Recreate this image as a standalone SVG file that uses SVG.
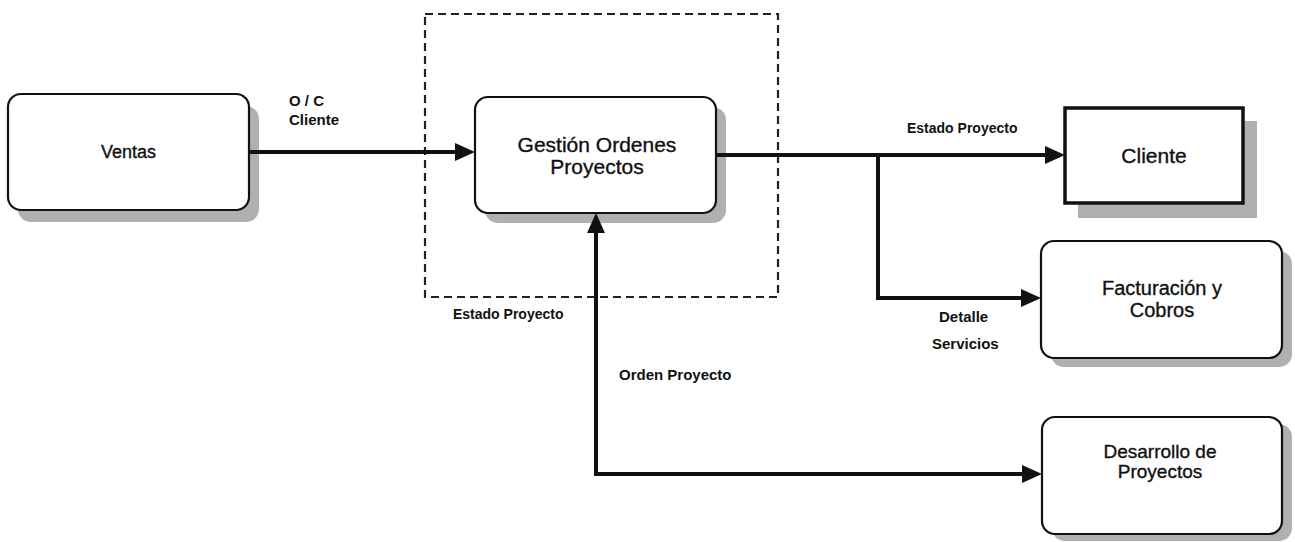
<svg xmlns="http://www.w3.org/2000/svg" width="1295" height="542" viewBox="0 0 1295 542">
  <style>
    .box { fill: #ffffff; stroke: #111111; stroke-width: 2.2; }
    .box-strong { fill: #ffffff; stroke: #111111; stroke-width: 3.5; }
    .shadow { fill: #b0b0b0; stroke: none; }
    .name { font-family: "Liberation Sans", Arial, sans-serif; fill: #111111; stroke: #111111; stroke-width: 0.35; text-anchor: middle; }
    .flow { font-family: "Liberation Sans", Arial, sans-serif; font-weight: bold; fill: #111111; }
    .wire { fill: none; stroke: #111111; stroke-width: 4; stroke-linejoin: miter; }
    .boundary { fill: none; stroke: #222222; stroke-width: 2.2; stroke-dasharray: 8 5; }
  </style>
  <defs>
    <marker id="head" viewBox="0 -9 20 18" refX="0" refY="0" markerWidth="20" markerHeight="18" markerUnits="userSpaceOnUse" orient="auto-start-reverse">
      <path d="M0,-9 L20,0 L0,9 z" fill="#111111"/>
    </marker>
  </defs>

  <rect width="1295" height="542" fill="#ffffff"/>

  <!-- system boundary around the order management process -->
  <rect class="boundary" x="425" y="14" width="353" height="283"/>

  <!-- nodes -->
  <g id="ventas">
    <rect class="shadow" x="18" y="106" width="241" height="116" rx="13"/>
    <rect class="box" x="8" y="94" width="241" height="116" rx="13"/>
    <text class="name" x="128.5" y="158" font-size="18">Ventas</text>
  </g>

  <g id="gestion-ordenes">
    <rect class="shadow" x="485" y="107" width="241" height="116" rx="13"/>
    <rect class="box" x="475" y="97" width="241" height="116" rx="13"/>
    <text class="name" x="597" y="152" font-size="21">Gestión Ordenes</text>
    <text class="name" x="597" y="174" font-size="21">Proyectos</text>
  </g>

  <g id="cliente">
    <rect class="shadow" x="1078" y="121" width="179" height="97"/>
    <rect class="box-strong" x="1065" y="108" width="178" height="95"/>
    <text class="name" x="1154" y="163" font-size="21">Cliente</text>
  </g>

  <g id="facturacion">
    <rect class="shadow" x="1051" y="251" width="241" height="116" rx="13"/>
    <rect class="box" x="1041" y="241" width="241" height="117" rx="13"/>
    <text class="name" x="1162" y="295" font-size="20">Facturación y</text>
    <text class="name" x="1162" y="317" font-size="20">Cobros</text>
  </g>

  <g id="desarrollo">
    <rect class="shadow" x="1052" y="424" width="240" height="117" rx="13"/>
    <rect class="box" x="1042" y="417" width="240" height="117" rx="13"/>
    <text class="name" x="1160" y="458" font-size="19">Desarrollo de</text>
    <text class="name" x="1160" y="478" font-size="19">Proyectos</text>
  </g>

  <!-- connectors -->
  <g id="connectors">
    <path class="wire" d="M249,152 H455" marker-end="url(#head)"/>
    <path class="wire" d="M716,155 H1045" marker-end="url(#head)"/>
    <path class="wire" d="M878,155 V298 H1021" marker-end="url(#head)"/>
    <path class="wire" d="M1022,474 H596 V233" marker-start="url(#head)" marker-end="url(#head)"/>
  </g>

  <!-- flow labels -->
  <g id="labels">
    <text class="flow" x="289" y="106" font-size="15">O / C</text>
    <text class="flow" x="289" y="125" font-size="15">Cliente</text>
    <text class="flow" x="907" y="133" font-size="14">Estado Proyecto</text>
    <text class="flow" x="453" y="319" font-size="14">Estado Proyecto</text>
    <text class="flow" x="619" y="380" font-size="15">Orden Proyecto</text>
    <text class="flow" x="939" y="322" font-size="15">Detalle</text>
    <text class="flow" x="932" y="349" font-size="15">Servicios</text>
  </g>
</svg>
